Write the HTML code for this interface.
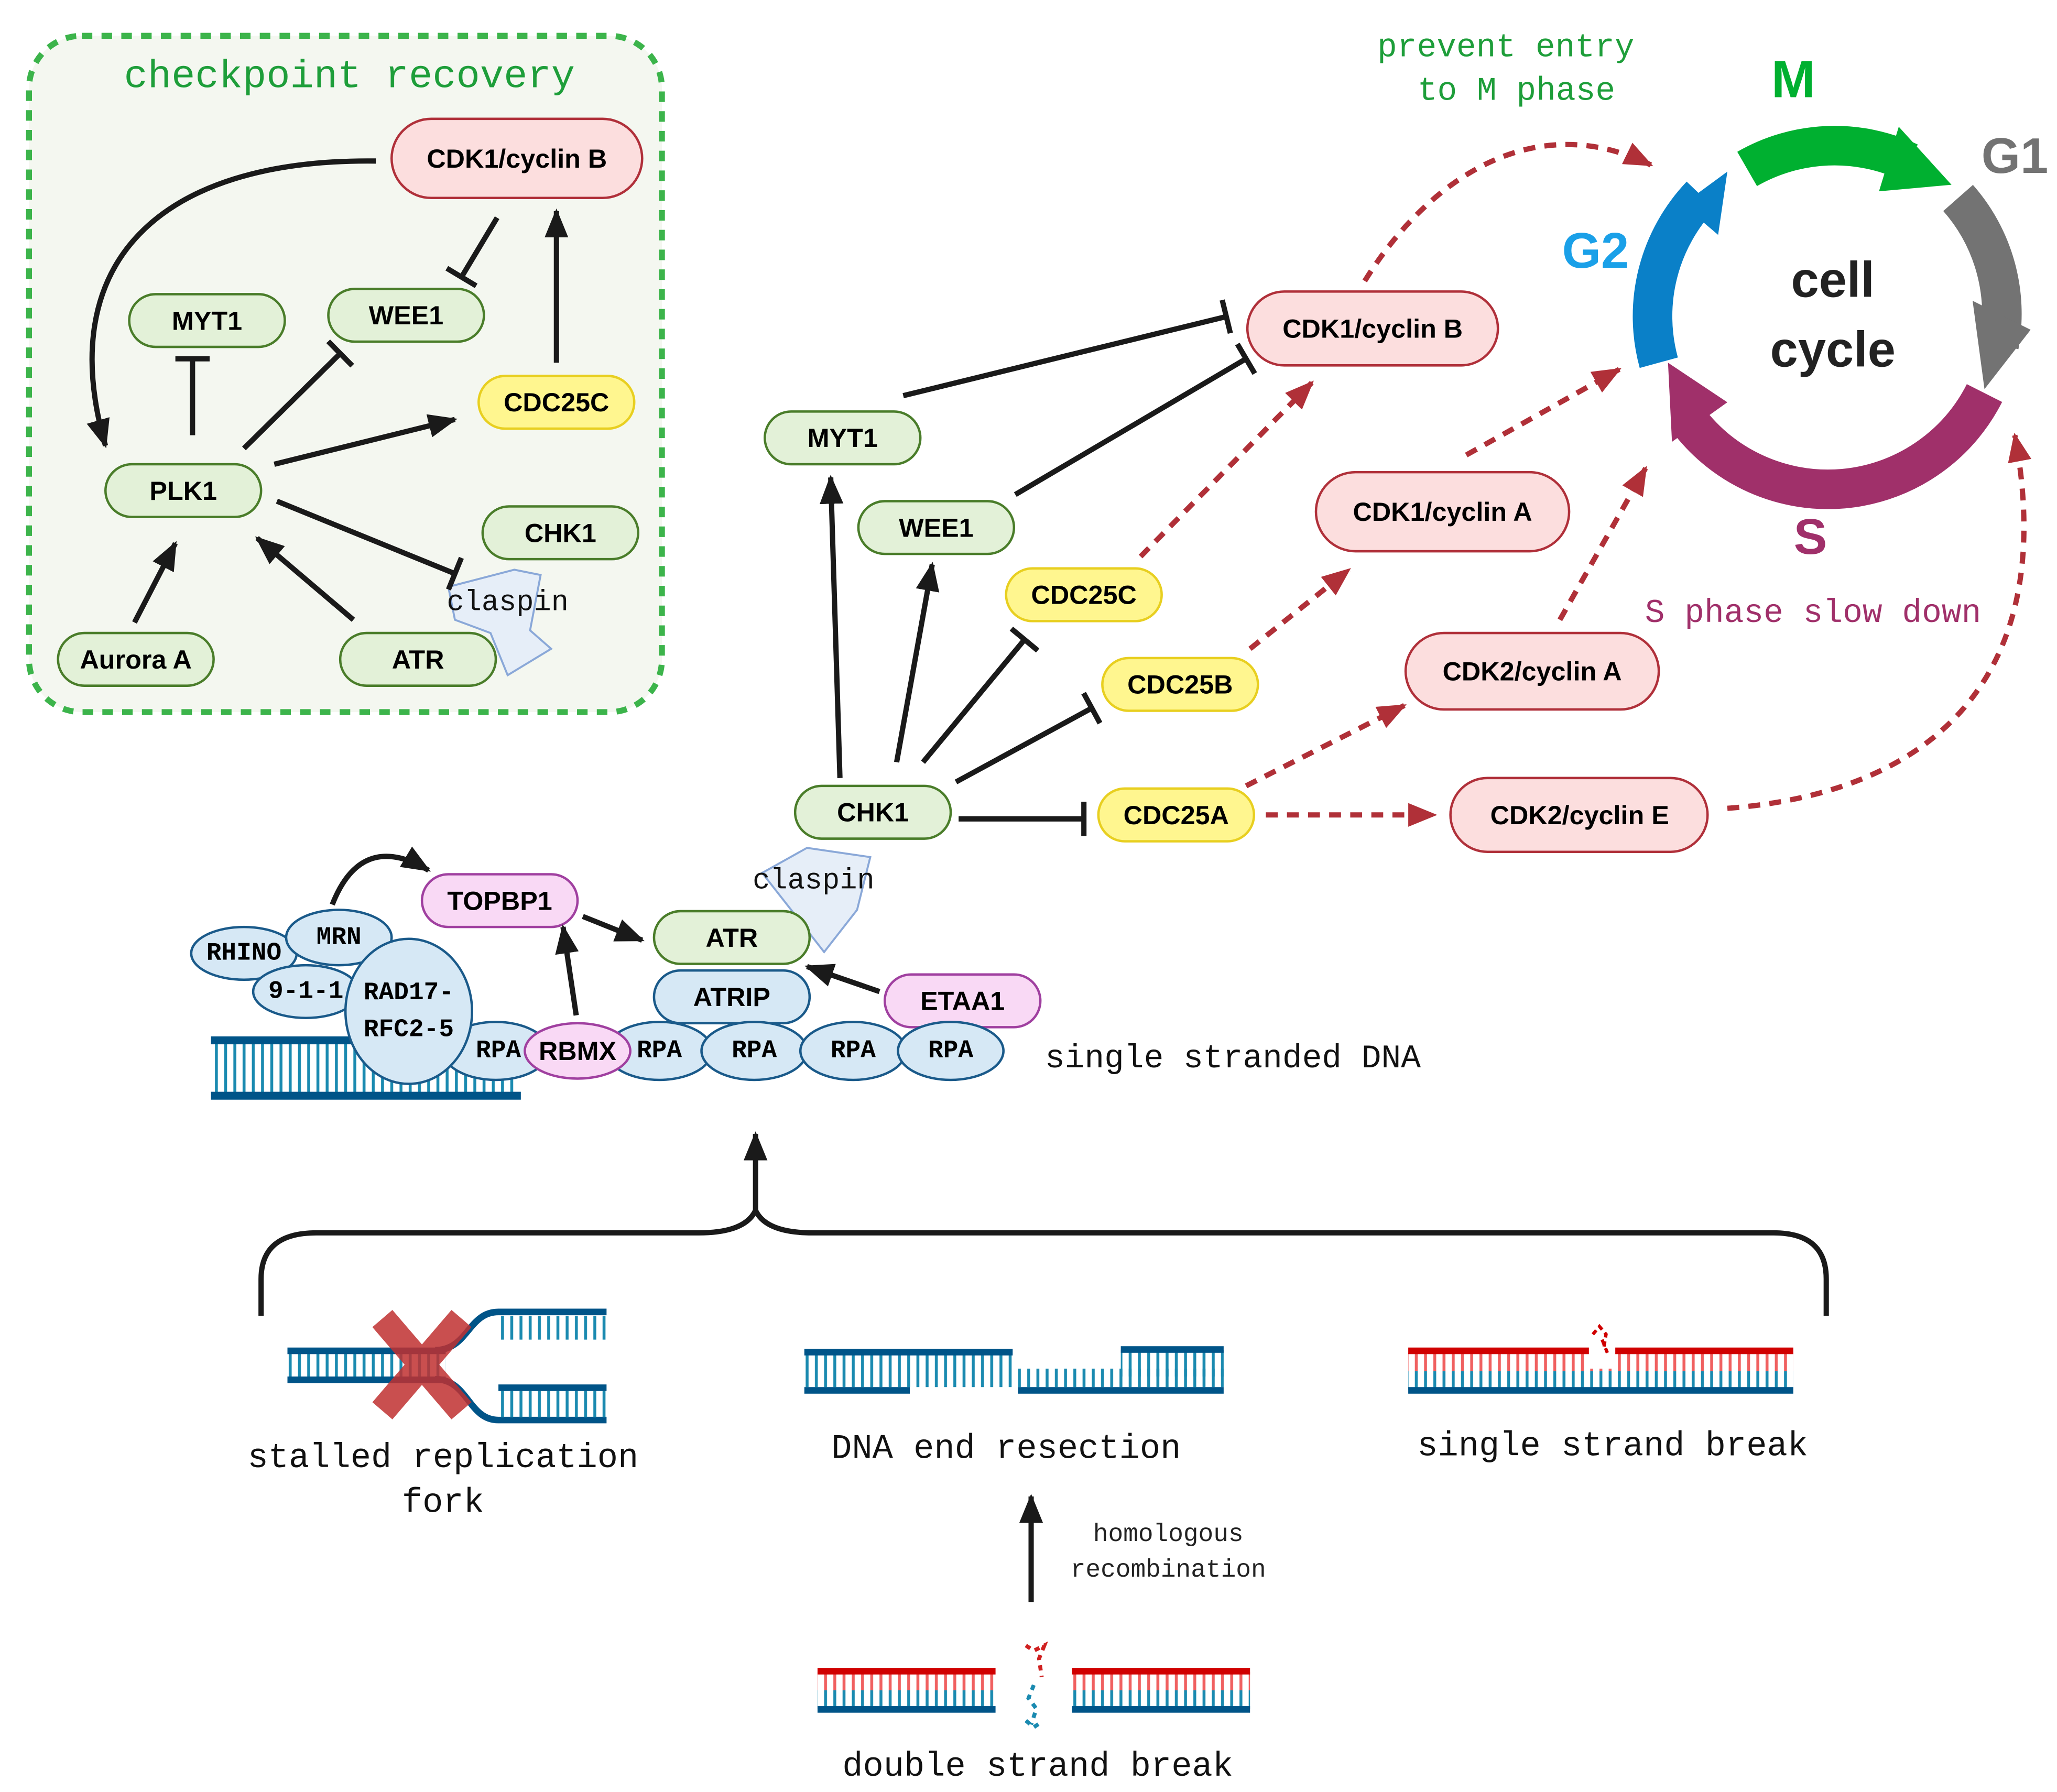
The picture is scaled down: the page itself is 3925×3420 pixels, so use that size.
<!DOCTYPE html>
<html><head><meta charset="utf-8"><style>
html,body{margin:0;padding:0;background:#fff}
svg{display:block}
.b{font-family:"Liberation Sans",sans-serif;font-weight:bold;font-size:20px;text-anchor:middle;dominant-baseline:central}
.m{font-family:"Liberation Mono",monospace;text-anchor:middle;dominant-baseline:central}
.g{fill:#e3f1d8;stroke:#4a7d2a;stroke-width:1.8}
.y{fill:#fff68f;stroke:#e8cf20;stroke-width:1.8}
.p{fill:#fcdede;stroke:#b0303a;stroke-width:1.8}
.v{fill:#f9d9f5;stroke:#a040a0;stroke-width:1.8}
.e{fill:#d6e8f5;stroke:#1a5a8a;stroke-width:1.8}
.k{stroke:#1a1a1a;stroke-width:4;fill:none}
.r{stroke:#b03038;stroke-width:4;fill:none;stroke-dasharray:9 7}
</style></head><body>
<svg width="3925" height="3420" viewBox="0 0 1560 1359" xmlns="http://www.w3.org/2000/svg">
<defs>
<marker id="ak" markerUnits="userSpaceOnUse" markerWidth="24" markerHeight="20" refX="20" refY="10" orient="auto"><path d="M0,1 L22,10 L0,19 Z" fill="#1a1a1a"/></marker>
<marker id="ar" markerUnits="userSpaceOnUse" markerWidth="24" markerHeight="20" refX="20" refY="10" orient="auto"><path d="M0,1 L22,10 L0,19 Z" fill="#b03038"/></marker>
<marker id="t" markerUnits="userSpaceOnUse" markerWidth="6" markerHeight="26" refX="3" refY="13" orient="auto"><path d="M3,0 L3,26" stroke="#1a1a1a" stroke-width="4"/></marker>
<pattern id="teeth" width="7" height="2000" patternUnits="userSpaceOnUse"><rect x="2" y="0" width="2.2" height="2000" fill="#1a8ab0"/></pattern>
<pattern id="teethRed" width="7" height="2000" patternUnits="userSpaceOnUse"><rect x="2" y="0" width="2.2" height="2000" fill="#f06060"/></pattern>
</defs>

<!-- checkpoint recovery box -->
<rect x="22" y="27" width="480" height="513" rx="40" fill="#f4f7f0" stroke="#3cb44b" stroke-width="4.5" stroke-dasharray="8 7"/>
<text class="m" x="265" y="58" font-size="30" fill="#1e9e3a">checkpoint recovery</text>

<path d="M390,432 L410,436 L402,478 L418,492 L385,512 L372,480 L345,470 L340,445 Z" fill="#e6eef8" stroke="#8aa8d8" stroke-width="1.5"/>
<text class="m" x="385" y="457" font-size="22" fill="#111">claspin</text>

<rect class="p" x="297" y="90" width="190" height="60" rx="30"/><text class="b" x="392" y="120">CDK1/cyclin B</text>
<rect class="g" x="98" y="223" width="118" height="40" rx="20"/><text class="b" x="157" y="243">MYT1</text>
<rect class="g" x="249" y="219" width="118" height="40" rx="20"/><text class="b" x="308" y="239">WEE1</text>
<rect class="y" x="363" y="285" width="118" height="40" rx="20"/><text class="b" x="422" y="305">CDC25C</text>
<rect class="g" x="80" y="352" width="118" height="40" rx="20"/><text class="b" x="139" y="372">PLK1</text>
<rect class="g" x="366" y="384" width="118" height="40" rx="20"/><text class="b" x="425" y="404">CHK1</text>
<rect class="g" x="44" y="480" width="118" height="40" rx="20"/><text class="b" x="103" y="500">Aurora A</text>
<rect class="g" x="258" y="480" width="118" height="40" rx="20"/><text class="b" x="317" y="500">ATR</text>

<path class="k" d="M285,122 C120,120 40,200 80,338" marker-end="url(#ak)"/>
<path class="k" d="M377,165 L350,210" marker-end="url(#t)"/>
<path class="k" d="M422,275 L422,160" marker-end="url(#ak)"/>
<path class="k" d="M146,330 L146,272" marker-end="url(#t)"/>
<path class="k" d="M185,340 L258,268" marker-end="url(#t)"/>
<path class="k" d="M208,352 L345,318" marker-end="url(#ak)"/>
<path class="k" d="M210,380 L345,435" marker-end="url(#t)"/>
<path class="k" d="M102,472 L133,412" marker-end="url(#ak)"/>
<path class="k" d="M268,470 L195,408" marker-end="url(#ak)"/>

<!-- cell cycle -->
<g fill="none" stroke-width="30">
<path d="M1325,128 A133,133 0 0 1 1448,123" stroke="#00b030"/>
<path d="M1485,150 A133,133 0 0 1 1516,262" stroke="#737373"/>
<path d="M1505,298 A133,133 0 0 1 1280,318" stroke="#a0306a"/>
<path d="M1258,275 A133,133 0 0 1 1290,148" stroke="#0a80c8"/>
</g>
<path d="M1440,96 L1480,140 L1425,145 Z" fill="#00b030"/>
<path d="M1496,228 L1540,250 L1505,295 Z" fill="#737373"/>
<path d="M1265,275 L1310,305 L1268,335 Z" fill="#a0306a"/>
<path d="M1276,155 L1310,130 L1303,178 Z" fill="#0a80c8"/>
<text class="b" x="1360" y="60" style="font-size:40px" fill="#00b030">M</text>
<text class="b" x="1528" y="118" style="font-size:38px" fill="#737373">G1</text>
<text class="b" x="1210" y="190" style="font-size:38px" fill="#1aa0e8">G2</text>
<text class="b" x="1373" y="407" style="font-size:38px" fill="#a0306a">S</text>
<text class="b" x="1390" y="212" style="font-size:38px" fill="#222">cell</text>
<text class="b" x="1390" y="265" style="font-size:38px" fill="#222">cycle</text>
<text class="m" x="1142" y="36" font-size="25" fill="#1e9e3a">prevent entry</text>
<text class="m" x="1150" y="69" font-size="25" fill="#1e9e3a">to M phase</text>
<text class="m" x="1375" y="465" font-size="25" fill="#a0306a">S phase slow down</text>

<!-- main nodes -->
<path d="M612,643 L660,650 L650,690 L625,722 L600,690 L578,662 Z" fill="#e6eef8" stroke="#8aa8d8" stroke-width="1.5"/>
<text class="m" x="617" y="668" font-size="22" fill="#111">claspin</text>

<rect class="p" x="946" y="221" width="190" height="56" rx="28"/><text class="b" x="1041" y="249">CDK1/cyclin B</text>
<rect class="g" x="580" y="312" width="118" height="40" rx="20"/><text class="b" x="639" y="332">MYT1</text>
<rect class="g" x="651" y="380" width="118" height="40" rx="20"/><text class="b" x="710" y="400">WEE1</text>
<rect class="y" x="763" y="431" width="118" height="40" rx="20"/><text class="b" x="822" y="451">CDC25C</text>
<rect class="p" x="998" y="358" width="192" height="60" rx="30"/><text class="b" x="1094" y="388">CDK1/cyclin A</text>
<rect class="y" x="836" y="499" width="118" height="40" rx="20"/><text class="b" x="895" y="519">CDC25B</text>
<rect class="p" x="1066" y="480" width="192" height="58" rx="29"/><text class="b" x="1162" y="509">CDK2/cyclin A</text>
<rect class="g" x="603" y="596" width="118" height="40" rx="20"/><text class="b" x="662" y="616">CHK1</text>
<rect class="y" x="833" y="598" width="118" height="40" rx="20"/><text class="b" x="892" y="618">CDC25A</text>
<rect class="p" x="1100" y="590" width="195" height="56" rx="28"/><text class="b" x="1198" y="618">CDK2/cyclin E</text>
<rect class="v" x="320" y="663" width="118" height="40" rx="20"/><text class="b" x="379" y="683">TOPBP1</text>
<rect class="g" x="496" y="691" width="118" height="40" rx="20"/><text class="b" x="555" y="711">ATR</text>
<rect class="e" x="496" y="736" width="118" height="40" rx="20"/><text class="b" x="555" y="756">ATRIP</text>
<rect class="v" x="671" y="739" width="118" height="40" rx="20"/><text class="b" x="730" y="759">ETAA1</text>

<!-- DNA with proteins -->
<rect x="160" y="790" width="230" height="40" fill="url(#teeth)"/>
<rect x="160" y="786" width="230" height="6" fill="#005488"/>
<rect x="160" y="828" width="235" height="6" fill="#005488"/>
<ellipse class="e" cx="185" cy="723" rx="40" ry="20"/><text class="m" x="185" y="723" font-size="19" font-weight="bold">RHINO</text>
<ellipse class="e" cx="232" cy="752" rx="40" ry="20"/><text class="m" x="232" y="752" font-size="19" font-weight="bold">9-1-1</text>
<ellipse class="e" cx="257" cy="711" rx="40" ry="21"/><text class="m" x="257" y="711" font-size="19" font-weight="bold">MRN</text>
<ellipse class="e" cx="376" cy="797" rx="40" ry="22"/><text class="m" x="378" y="797" font-size="19" font-weight="bold">RPA</text>
<ellipse class="e" cx="310" cy="767" rx="48" ry="55"/><text class="m" x="310" y="753" font-size="19" font-weight="bold">RAD17-</text><text class="m" x="310" y="781" font-size="19" font-weight="bold">RFC2-5</text>
<ellipse class="e" cx="500" cy="797" rx="40" ry="22"/><text class="m" x="500" y="797" font-size="19" font-weight="bold">RPA</text>
<ellipse class="v" cx="438" cy="797" rx="40" ry="21"/><text class="b" x="438" y="797">RBMX</text>
<ellipse class="e" cx="572" cy="797" rx="40" ry="22"/><text class="m" x="572" y="797" font-size="19" font-weight="bold">RPA</text>
<ellipse class="e" cx="647" cy="797" rx="40" ry="22"/><text class="m" x="647" y="797" font-size="19" font-weight="bold">RPA</text>
<ellipse class="e" cx="721" cy="797" rx="40" ry="22"/><text class="m" x="721" y="797" font-size="19" font-weight="bold">RPA</text>
<text class="m" x="935" y="803" font-size="25" fill="#111">single stranded DNA</text>

<!-- main arrows -->
<path class="k" d="M685,300 L930,240" marker-end="url(#t)"/>
<path class="k" d="M770,375 L945,272" marker-end="url(#t)"/>
<path class="k" d="M637,590 L630,362" marker-end="url(#ak)"/>
<path class="k" d="M680,578 L707,428" marker-end="url(#ak)"/>
<path class="k" d="M700,578 L777,485" marker-end="url(#t)"/>
<path class="k" d="M725,593 L828,537" marker-end="url(#t)"/>
<path class="k" d="M727,621 L822,621" marker-end="url(#t)"/>
<path class="k" d="M442,695 L487,713" marker-end="url(#ak)"/>
<path class="k" d="M437,770 L427,703" marker-end="url(#ak)"/>
<path class="k" d="M667,752 L612,733" marker-end="url(#ak)"/>
<path class="k" d="M252,686 C270,640 300,645 325,660" marker-end="url(#ak)"/>

<path class="r" d="M1035,213 C1080,140 1160,80 1252,125" marker-end="url(#ar)"/>
<path class="r" d="M865,422 L995,290" marker-end="url(#ar)"/>
<path class="r" d="M1112,345 L1228,280" marker-end="url(#ar)"/>
<path class="r" d="M948,492 L1023,432" marker-end="url(#ar)"/>
<path class="r" d="M1183,470 L1248,355" marker-end="url(#ar)"/>
<path class="r" d="M945,596 L1065,535" marker-end="url(#ar)"/>
<path class="r" d="M960,618 L1088,618" marker-end="url(#ar)"/>
<path class="r" d="M1310,613 C1480,600 1560,500 1528,330" marker-end="url(#ar)"/>

<!-- bracket -->
<path class="k" d="M198,998 L198,970 Q198,935 240,935 L530,935 Q565,935 573,918 Q581,935 616,935 L1345,935 Q1385,935 1385,970 L1385,998"/>
<path class="k" d="M573,920 L573,860" marker-end="url(#ak)"/>

<!-- stalled fork -->
<rect x="218" y="1026" width="120" height="20" fill="url(#teeth)"/>
<rect x="218" y="1022" width="120" height="5" fill="#005488"/>
<rect x="218" y="1044" width="120" height="5" fill="#005488"/>
<path d="M330,1024 C355,1024 355,995 378,995 L460,995 M330,1046 C355,1046 355,1077 378,1077 L460,1077" fill="none" stroke="#005488" stroke-width="5"/>
<rect x="378" y="998" width="82" height="18" fill="url(#teeth)"/>
<rect x="378" y="1055" width="82" height="20" fill="url(#teeth)"/>
<rect x="378" y="1050" width="82" height="5" fill="#005488"/>
<path d="M290,1000 L350,1070 M350,1000 L290,1070" stroke="#c03030" stroke-opacity="0.85" stroke-width="20"/>
<text class="m" x="336" y="1106" font-size="26" fill="#111">stalled replication</text>
<text class="m" x="336" y="1140" font-size="26" fill="#111">fork</text>

<!-- DNA end resection -->
<rect x="610" y="1026" width="158" height="26" fill="url(#teeth)"/>
<rect x="610" y="1023" width="158" height="5" fill="#005488"/>
<rect x="610" y="1052" width="80" height="5" fill="#005488"/>
<rect x="772" y="1038" width="156" height="14" fill="url(#teeth)"/>
<rect x="850" y="1024" width="78" height="20" fill="url(#teeth)"/>
<rect x="850" y="1021" width="78" height="5" fill="#005488"/>
<rect x="772" y="1052" width="156" height="5" fill="#005488"/>
<text class="m" x="763" y="1099" font-size="26" fill="#111">DNA end resection</text>

<!-- single strand break -->
<rect x="1068" y="1026" width="292" height="14" fill="url(#teethRed)"/>
<rect x="1068" y="1040" width="292" height="14" fill="url(#teeth)"/>
<rect x="1068" y="1022" width="292" height="5" fill="#d00000"/>
<rect x="1068" y="1052" width="292" height="5" fill="#005488"/>
<rect x="1205" y="1008" width="20" height="30" fill="#fff"/>
<path d="M1208,1012 l5,-6 l5,6 l-2,12 M1215,1016 l4,10" stroke="#d00000" stroke-width="2.5" stroke-dasharray="4 3" fill="none"/>
<text class="m" x="1223" y="1097" font-size="26" fill="#111">single strand break</text>

<path class="k" d="M782,1215 L782,1135" marker-end="url(#ak)"/>
<text class="m" x="886" y="1164" font-size="19" fill="#222">homologous</text>
<text class="m" x="886" y="1191" font-size="19" fill="#222">recombination</text>

<!-- double strand break -->
<rect x="620" y="1268" width="135" height="14" fill="url(#teethRed)"/>
<rect x="620" y="1282" width="135" height="14" fill="url(#teeth)"/>
<rect x="620" y="1265" width="135" height="5" fill="#d00000"/>
<rect x="620" y="1294" width="135" height="5" fill="#005488"/>
<rect x="813" y="1268" width="135" height="14" fill="url(#teethRed)"/>
<rect x="813" y="1282" width="135" height="14" fill="url(#teeth)"/>
<rect x="813" y="1265" width="135" height="5" fill="#d00000"/>
<rect x="813" y="1294" width="135" height="5" fill="#005488"/>
<path d="M778,1248 l6,4 l8,-4 l-4,10 l2,14" stroke-width="3" stroke-dasharray="4 4" fill="none" stroke="#d02020"/>
<path d="M784,1278 l-4,10 l6,8 l-4,12 M778,1305 l6,5 l6,-4" stroke-width="3" stroke-dasharray="4 4" fill="none" stroke="#1a8ab0"/>
<text class="m" x="787" y="1340" font-size="26" fill="#111">double strand break</text>
</svg>
</body></html>
